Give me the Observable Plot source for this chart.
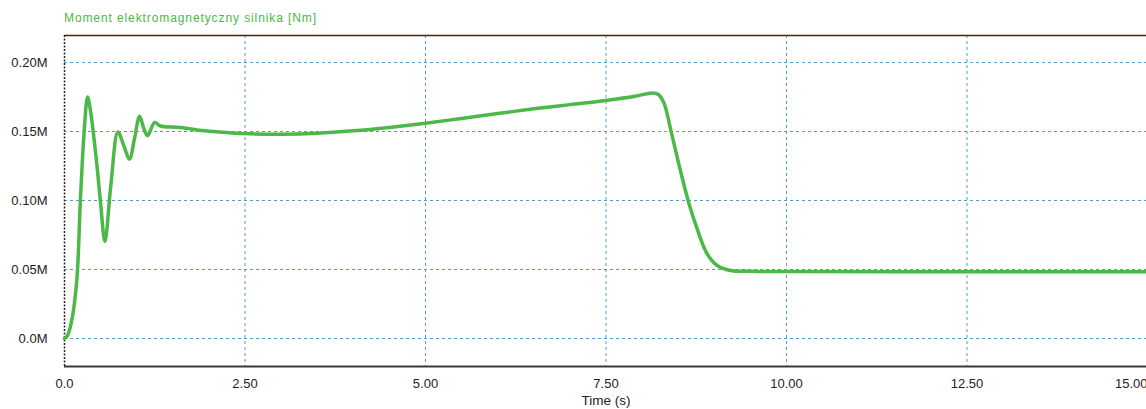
<!DOCTYPE html>
<html>
<head>
<meta charset="utf-8">
<script src="https://cdn.jsdelivr.net/npm/d3@7"></script>
<script src="https://cdn.jsdelivr.net/npm/@observablehq/plot@0.6"></script>
<style>
  html, body { margin: 0; padding: 0; background: #fff; overflow: hidden; }
  #wrap { position: relative; width: 1146px; height: 409px; overflow: hidden; }
  #title { position: absolute; left: 64px; top: 11px; font: 12px/14px "Liberation Sans", Arial, sans-serif; letter-spacing: 0.9px; color: #4cb848; white-space: nowrap; }
  #chart { position: absolute; left: 0; top: 0; width: 1160px; }
  #chart svg { max-width: none !important; }
</style>
</head>
<body>
<div id="wrap">
  <div id="chart"></div>
  <div id="title">Moment elektromagnetyczny silnika [Nm]</div>
</div>
<script>
const titleText = "Moment elektromagnetyczny silnika [Nm]";
const xLabel = "Time (s)";
const time = [0, 0.04, 0.1, 0.17, 0.22, 0.27, 0.32, 0.36, 0.45, 0.5, 0.56, 0.64, 0.74, 0.82, 0.9, 0.97, 1.04, 1.1, 1.15, 1.25, 1.33, 1.6, 1.9, 2.2, 2.5, 3.0, 3.5, 4.0, 4.5, 5.0, 5.5, 6.0, 6.5, 7.0, 7.5, 7.9, 8.14, 8.22, 8.3, 8.4, 8.53, 8.65, 8.77, 8.9, 9.04, 9.22, 9.5, 10, 12, 15];
const torqueM = [0, 0.002, 0.013, 0.042, 0.10, 0.148, 0.175, 0.165, 0.125, 0.098, 0.0705, 0.11, 0.1496, 0.14, 0.13, 0.145, 0.161, 0.152, 0.147, 0.1566, 0.154, 0.153, 0.1508, 0.1495, 0.1485, 0.148, 0.1487, 0.1505, 0.153, 0.156, 0.1595, 0.163, 0.1665, 0.1695, 0.1725, 0.1755, 0.178, 0.177, 0.171, 0.1505, 0.1218, 0.0977, 0.0783, 0.0614, 0.0529, 0.0493, 0.0487, 0.0485, 0.0484, 0.0484];
const xTicks = [0, 2.5, 5, 7.5, 10, 12.5, 15];
const xTickLabels = ["0.0", "2.50", "5.00", "7.50", "10.00", "12.50", "15.00"];
const yTicks = [0, 0.05, 0.10, 0.15, 0.20];
const yTickLabels = ["0.0M", "0.05M", "0.10M", "0.15M", "0.20M"];

const data = time.map((t, i) => ({t, v: torqueM[i]}));
const yDomain = [-0.0203, 0.2196];
const lastTick = xTicks.length - 1;

const chart = Plot.plot({
  width: 1160,
  height: 409,
  marginLeft: 64,
  marginRight: 13,
  marginTop: 35,
  marginBottom: 43,
  style: {fontFamily: "'Liberation Sans', Arial, sans-serif", fontSize: "13px", color: "#222", background: "#fff", maxWidth: "none"},
  x: {domain: [0, 15], label: null},
  y: {domain: yDomain, label: null},
  marks: [
    Plot.ruleX(xTicks.slice(1, -1), {stroke: "#4a9fd0", strokeDasharray: "3,3", strokeWidth: 1}),
    Plot.ruleY(yTicks, {stroke: "#4a9fd0", strokeDasharray: "3,3", strokeWidth: 1}),
    Plot.ruleX([15], {stroke: "#f0c8c0", strokeWidth: 1}),
    Plot.ruleY([yDomain[1]], {stroke: "#5a1a10", strokeWidth: 1.5}),
    Plot.ruleY([yDomain[0]], {stroke: "#3a3a3a", strokeWidth: 2}),
    Plot.ruleX([0], {stroke: "#222", strokeDasharray: "2,1.5", strokeWidth: 1.5}),
    Plot.line(data, {x: "t", y: "v", stroke: "#4cb848", strokeWidth: 3.5, curve: "catmull-rom"}),
    Plot.axisX(xTicks.slice(0, lastTick), {tickSize: 0, tickPadding: 12, tickFormat: (d, i) => xTickLabels[i], label: null, fontSize: 13, fill: "#222"}),
    Plot.text([xTicks[lastTick]], {x: d => d, frameAnchor: "bottom", lineAnchor: "middle", dy: 17, textAnchor: "end", dx: 0, text: () => xTickLabels[lastTick], fontSize: 13, fill: "#222"}),
    Plot.axisY(yTicks, {tickSize: 0, tickPadding: 17, tickFormat: (d, i) => yTickLabels[i], label: null, fontSize: 13, fill: "#222"}),
    Plot.text([xLabel], {frameAnchor: "bottom", lineAnchor: "middle", dy: 34, fontSize: 13.5, fill: "#222"})
  ]
});
document.getElementById("chart").appendChild(chart);
</script>
</body>
</html>
